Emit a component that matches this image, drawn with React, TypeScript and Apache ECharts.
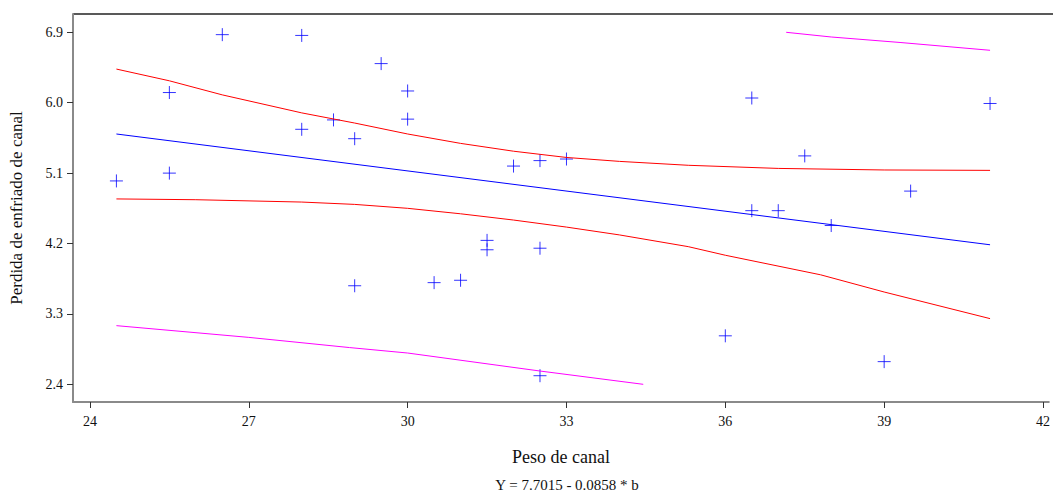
import React, { useEffect, useRef } from "react";
import * as echarts from "echarts";

const xTicks = [24, 27, 30, 33, 36, 39, 42];
const yTicks = [2.4, 3.3, 4.2, 5.1, 6.0, 6.9];

const pesoX = [24.5, 25.5, 25.5, 26.5, 28, 28, 28.6, 29.5, 30, 30, 29, 32, 32.5, 33, 31.5, 31.5, 32.5, 29, 30.5, 31, 32.5, 36.5, 41, 37.5, 39.5, 36.5, 37, 38, 36, 39];
const perdidaY = [5.0, 5.1, 6.13, 6.87, 6.86, 5.66, 5.78, 6.5, 6.15, 5.79, 5.54, 5.19, 5.26, 5.28, 4.24, 4.12, 4.14, 3.66, 3.7, 3.73, 2.51, 6.06, 5.99, 5.32, 4.87, 4.62, 4.62, 4.43, 3.02, 2.69];

const fitX = [24.5, 41];
const fitY = [5.6, 4.184];

const ciUpperX = [24.5, 25.5, 26.5, 28, 29, 30, 31, 32, 33, 34, 35.3, 37, 39, 41];
const ciUpperY = [6.43, 6.28, 6.1, 5.87, 5.74, 5.6, 5.48, 5.38, 5.3, 5.25, 5.2, 5.16, 5.14, 5.135];
const ciLowerX = [24.5, 26, 28, 29, 30, 31, 32, 33, 34, 35.3, 36, 37.8, 39, 41];
const ciLowerY = [4.77, 4.76, 4.73, 4.7, 4.65, 4.58, 4.5, 4.41, 4.31, 4.16, 4.05, 3.8, 3.58, 3.24];

const piLowerX = [24.5, 27, 28.9, 30, 32.5, 34.45];
const piLowerY = [3.15, 3.0, 2.87, 2.8, 2.57, 2.4];
const piUpperX = [37.15, 38, 39.3, 41];
const piUpperY = [6.9, 6.84, 6.77, 6.67];

const zip = (xs: number[], ys: number[]) => xs.map((x, i) => [x, ys[i]]);

const FONT = "Liberation Serif";

export default function App() {
  const ref = useRef<HTMLDivElement>(null);
  useEffect(() => {
    if (!ref.current) return;
    const chart = echarts.init(ref.current, null, { renderer: "svg" });
    const lineS = (data: number[][], color: string) => ({
      type: "line",
      data,
      showSymbol: false,
      symbol: "none",
      lineStyle: { color, width: 1 },
      silent: true,
    });
    chart.setOption({
      animation: false,
      backgroundColor: "#ffffff",
      grid: { left: 73, top: 14, right: 0, bottom: 93, containLabel: false },
      xAxis: {
        type: "value",
        min: 23.68,
        max: 42.11,
        name: "Peso de canal",
        nameLocation: "middle",
        nameGap: 46,
        nameTextStyle: { fontFamily: FONT, fontSize: 18, color: "#111" },
        axisLine: { show: true, lineStyle: { color: "#8a8a8a", width: 2 } },
        axisTick: { show: true, length: 6, lineStyle: { color: "#333", width: 1 }, customValues: xTicks },
        axisLabel: { customValues: xTicks, fontFamily: FONT, fontSize: 14, color: "#111", margin: 12 },
        splitLine: { show: false },
      },
      yAxis: {
        type: "value",
        min: 2.174,
        max: 7.134,
        name: "Perdida de enfriado de canal",
        nameLocation: "middle",
        nameGap: 48,
        nameRotate: 90,
        nameTextStyle: { fontFamily: FONT, fontSize: 17, color: "#111" },
        axisLine: { show: true, lineStyle: { color: "#8a8a8a", width: 2 } },
        axisTick: { show: true, length: 6, lineStyle: { color: "#333", width: 1 }, customValues: yTicks },
        axisLabel: {
          customValues: yTicks,
          fontFamily: FONT,
          fontSize: 14,
          color: "#111",
          margin: 10,
          formatter: (v: number) => v.toFixed(1),
        },
        splitLine: { show: false },
      },
      graphic: [
        {
          type: "line",
          shape: { x1: 73, y1: 14, x2: 1053, y2: 14 },
          style: { stroke: "#222", lineWidth: 1.5 },
          silent: true,
        },
        {
          type: "text",
          x: 567,
          y: 485,
          style: {
            text: "Y = 7.7015 - 0.0858 * b",
            fontFamily: FONT,
            fontSize: 15,
            fill: "#111",
            align: "center",
            verticalAlign: "middle",
          },
        },
      ],
      series: [
        lineS(zip(piLowerX, piLowerY), "#ff00ff"),
        lineS(zip(piUpperX, piUpperY), "#ff00ff"),
        lineS(zip(ciUpperX, ciUpperY), "#ff0000"),
        lineS(zip(ciLowerX, ciLowerY), "#ff0000"),
        lineS(zip(fitX, fitY), "#0000ff"),
        {
          type: "scatter",
          data: zip(pesoX, perdidaY),
          symbol: "path://M7,0L7,14M0,7L14,7",
          symbolSize: 13,
          itemStyle: { color: "none", borderColor: "#0000ff", borderWidth: 1 },
        },
      ],
    });
    return () => chart.dispose();
  }, []);
  return (
    <div
      ref={ref}
      style={{ position: "fixed", left: 0, top: 0, width: 1053, height: 495 }}
    />
  );
}
